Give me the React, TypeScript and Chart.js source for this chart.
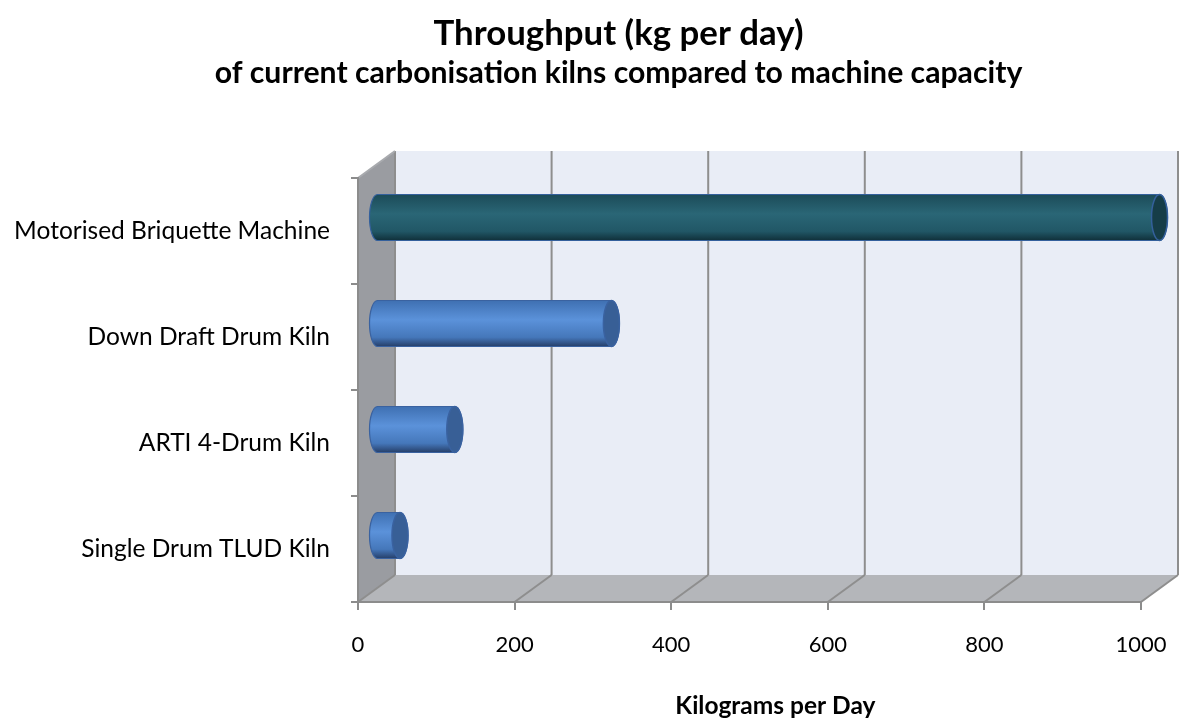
import React, { useEffect, useRef } from "react";
import { Chart, registerables } from "chart.js";

Chart.register(...registerables);

const categories = [
  "Motorised Briquette Machine",
  "Down Draft Drum Kiln",
  "ARTI 4-Drum Kiln",
  "Single Drum TLUD Kiln",
];
const throughput = [1000, 300, 100, 30];
const xMin = 0;
const xMax = 1000;
const xStep = 200;
const titleText = "Throughput (kg per day)";
const subtitleText = "of current carbonisation kilns compared to machine capacity";
const xAxisTitle = "Kilograms per Day";

// cylinder colour themes per category
const barThemes = [
  { stops: ["#1c4b58", "#2a6676", "#215766", "#10303a"], cap: "#163d48", edge: "#34609c" },
  { stops: ["#3f70b2", "#5b92da", "#4577ba", "#263f69"], cap: "#385f96", edge: "#3a62a0" },
  { stops: ["#3f70b2", "#5b92da", "#4577ba", "#263f69"], cap: "#385f96", edge: "#3a62a0" },
  { stops: ["#3f70b2", "#5b92da", "#4577ba", "#263f69"], cap: "#385f96", edge: "#3a62a0" },
];

const DX = 37;
const DY = 27;
const FONT = "Lato, 'Open Sans', sans-serif";

function poly(ctx: CanvasRenderingContext2D, pts: number[][], fill: string) {
  ctx.beginPath();
  ctx.moveTo(pts[0][0], pts[0][1]);
  for (let i = 1; i < pts.length; i++) ctx.lineTo(pts[i][0], pts[i][1]);
  ctx.closePath();
  ctx.fillStyle = fill;
  ctx.fill();
}

function seg(ctx: CanvasRenderingContext2D, x1: number, y1: number, x2: number, y2: number) {
  ctx.beginPath();
  ctx.moveTo(x1, y1);
  ctx.lineTo(x2, y2);
  ctx.stroke();
}

const wallsPlugin = {
  id: "walls3d",
  beforeDraw(chart: any) {
    const { ctx, chartArea: a, scales } = chart;
    const xs = scales.x;
    const L = a.left, R = a.right, T = a.top, B = a.bottom;
    ctx.save();
    // chart titles (offset to the right like the original)
    const tx = chart.width / 2 + 28;
    ctx.fillStyle = "#000";
    ctx.textAlign = "center";
    ctx.textBaseline = "middle";
    ctx.font = `bold 34.8px ${FONT}`;
    ctx.fillText(titleText, tx, 34);
    ctx.font = `bold 30.2px ${FONT}`;
    ctx.fillText(subtitleText, tx, 73);
    // back wall
    ctx.fillStyle = "#e9edf6";
    ctx.fillRect(L + DX, T - DY, R - L, B - T);
    // left side wall
    poly(ctx, [[L, T], [L + DX, T - DY], [L + DX, B - DY], [L, B]], "#9a9ca1");
    // floor
    poly(ctx, [[L, B], [L + DX, B - DY], [R + DX, B - DY], [R, B]], "#b4b6ba");
    // grid lines on back wall and floor
    ctx.strokeStyle = "#8e8e8e";
    ctx.lineWidth = 2;
    xs.ticks.forEach((t: any) => {
      const px = xs.getPixelForValue(t.value);
      seg(ctx, px + DX, T - DY, px + DX, B - DY);
      seg(ctx, px, B, px + DX, B - DY);
    });
    // top edge of side wall
    ctx.strokeStyle = "#a8aaae";
    seg(ctx, L, T, L + DX, T - DY);
    ctx.restore();
  },
};

function cylinder(
  ctx: CanvasRenderingContext2D,
  x0: number,
  x1: number,
  yc: number,
  ry: number,
  rx: number,
  theme: { stops: string[]; cap: string; edge: string }
) {
  const g = ctx.createLinearGradient(0, yc - ry, 0, yc + ry);
  g.addColorStop(0, theme.stops[0]);
  g.addColorStop(0.42, theme.stops[1]);
  g.addColorStop(0.8, theme.stops[2]);
  g.addColorStop(1, theme.stops[3]);
  ctx.beginPath();
  ctx.moveTo(x0, yc - ry);
  ctx.lineTo(x1, yc - ry);
  ctx.ellipse(x1, yc, rx, ry, 0, -Math.PI / 2, Math.PI / 2, false);
  ctx.lineTo(x0, yc + ry);
  ctx.ellipse(x0, yc, rx, ry, 0, Math.PI / 2, (3 * Math.PI) / 2, false);
  ctx.closePath();
  ctx.fillStyle = g;
  ctx.fill();
  ctx.strokeStyle = theme.edge;
  ctx.lineWidth = 1.2;
  ctx.stroke();
  // end cap
  ctx.beginPath();
  ctx.ellipse(x1, yc, rx, ry, 0, 0, Math.PI * 2);
  ctx.fillStyle = theme.cap;
  ctx.fill();
  ctx.strokeStyle = theme.edge;
  ctx.lineWidth = 1.5;
  ctx.stroke();
}

const cylindersPlugin = {
  id: "cylinders",
  afterDatasetsDraw(chart: any) {
    const { ctx, chartArea: a, scales } = chart;
    const meta = chart.getDatasetMeta(0);
    ctx.save();
    meta.data.forEach((el: any, i: number) => {
      const p = el.getProps(["x", "y", "base", "height"], true);
      const x0 = p.base + DX / 2;
      const x1 = p.x + DX / 2;
      const yc = p.y - DY / 2;
      cylinder(ctx, x0, x1, yc, p.height / 2, 8, barThemes[i % barThemes.length]);
    });
    // x axis title, centred under the floor
    const xs = scales.x;
    const cx = (xs.getPixelForValue(xMin) + xs.getPixelForValue(xMax)) / 2 + DX * 0.7;
    ctx.fillStyle = "#000";
    ctx.font = `bold 24.5px ${FONT}`;
    ctx.textAlign = "center";
    ctx.textBaseline = "middle";
    ctx.fillText(xAxisTitle, cx, a.bottom + 104);
    ctx.restore();
  },
};

export default function App() {
  const ref = useRef<HTMLCanvasElement | null>(null);

  useEffect(() => {
    document.body.style.margin = "0";
    const canvas = ref.current;
    if (!canvas) return;
    const chart = new Chart(canvas, {
      type: "bar",
      data: {
        labels: categories,
        datasets: [
          {
            label: "Throughput",
            data: throughput,
            backgroundColor: "rgba(0,0,0,0)",
            borderWidth: 0,
            categoryPercentage: 1,
            barPercentage: 0.434,
          },
        ],
      },
      options: {
        indexAxis: "y",
        responsive: false,
        animation: false,
        devicePixelRatio: 1,
        layout: { padding: { left: 0, right: 40, top: 178, bottom: 0 } },
        plugins: {
          legend: { display: false },
          tooltip: { enabled: false },
          title: { display: false },
          subtitle: { display: false },
        },
        scales: {
          x: {
            type: "linear",
            min: xMin,
            max: xMax,
            ticks: {
              stepSize: xStep,
              color: "#000",
              font: { family: FONT, size: 22 },
              padding: 22,
              callback: (v: any) => String(v),
            },
            grid: {
              display: true,
              drawOnChartArea: false,
              drawTicks: true,
              tickLength: 8,
              color: "#8c8c8c",
              lineWidth: 2,
            },
            border: { display: true, color: "#8c8c8c", width: 2 },
            afterFit(scale: any) {
              scale.height = 118;
              scale.paddingLeft = 0;
              scale.paddingRight = 0;
            },
          },
          y: {
            type: "category",
            ticks: {
              color: "#000",
              font: { family: FONT, size: 24.5 },
              padding: 21,
            },
            grid: {
              display: true,
              drawOnChartArea: false,
              drawTicks: true,
              tickLength: 7,
              offset: true,
              color: "#8c8c8c",
              lineWidth: 2,
            },
            border: { display: true, color: "#8c8c8c", width: 2 },
            afterFit(scale: any) {
              scale.width = 358;
              scale.paddingTop = 0;
              scale.paddingBottom = 0;
            },
          },
        },
      },
      plugins: [wallsPlugin, cylindersPlugin],
    } as any);
    return () => chart.destroy();
  }, []);

  return (
    <div style={{ width: 1181, height: 720 }}>
      <canvas ref={ref} width={1181} height={720} style={{ display: "block" }} />
    </div>
  );
}
